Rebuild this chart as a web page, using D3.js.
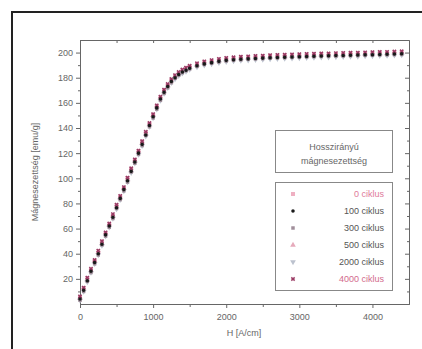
<!DOCTYPE html>
<html>
<head>
<meta charset="utf-8">
<script src="https://cdn.jsdelivr.net/npm/d3@7"></script>
<style>
  body { margin: 0; background: #fff; }
  svg { display: block; font-family: "Liberation Sans", Arial, sans-serif; }
</style>
</head>
<body>
<div id="chart"></div>
<script>
// field steps shared by every series (A/cm)
const fieldH = [0,50,100,150,200,250,300,350,400,450,500,550,600,650,700,750,800,850,900,950,
  1000,1050,1100,1150,1200,1250,1300,1350,1400,1450,1500,1600,1700,1800,1900,2000,2100,2200,2300,2400,
  2500,2600,2700,2800,2900,3000,3100,3200,3300,3400,3500,3600,3700,3800,3900,4000,4100,4200,4300,4400];

// magnetization readings (emu/g)
const cyc0 = [5,12,20,27,34,41,49,56,63,70,78,85,92,100,107,114,121,129,136,143,
  150,157,164,169.5,174,178,181,183.5,185.5,187,188.5,190.5,192,193,194,194.8,195.3,195.7,196,196.3,
  196.6,196.9,197.1,197.3,197.5,197.7,197.9,198.1,198.3,198.4,198.6,198.7,198.9,199,199.2,199.3,199.5,199.6,199.8,200];
const cyc100 = [4,11,18.5,26,33,40,47.5,55,62,69,76.5,84,91,98,105.5,113,120,127,134.5,142,
  149,156,163,168.5,173,177,180,182.5,184.5,186,187.5,189.5,191,192,193,193.8,194.3,194.7,195,195.3,
  195.6,195.9,196.1,196.3,196.5,196.7,196.9,197.1,197.3,197.4,197.6,197.7,197.9,198,198.2,198.3,198.5,198.6,198.8,199];
const cyc300 = [3,10,18,25,32,39,47,54,61,68,76,83,90,97,105,112,119,126,134,141,
  148,155,162,167.5,172,176,179.5,182,184,185.5,187,189,190.5,191.5,192.5,193.3,193.8,194.2,194.6,194.9,
  195.2,195.5,195.7,195.9,196.1,196.3,196.5,196.7,196.9,197,197.2,197.3,197.5,197.6,197.8,197.9,198.1,198.2,198.4,198.5];
const cyc500 = [4.5,12,19,26.5,34,41,48,55.5,63,70,77,84.5,92,99,106,113.5,121,128,135,142.5,
  150,157,163.5,169,173.5,177.5,180.5,183,185,186.5,188,190,191.5,192.5,193.5,194.3,194.8,195.2,195.5,195.8,
  196.1,196.4,196.6,196.8,197,197.2,197.4,197.6,197.8,197.9,198.1,198.2,198.4,198.5,198.7,198.8,199,199.1,199.3,199.4];
const cyc2000 = [3,10,17.5,25,32,39,46.5,54,61,68,75.5,83,90,97,104.5,112,119,126,133.5,141,
  148,155,162,167.5,172,176,179,181.5,183.5,185,186.5,188.5,190,191,192,192.8,193.3,193.7,194,194.3,
  194.6,194.9,195.1,195.3,195.5,195.7,195.9,196.1,196.3,196.4,196.6,196.7,196.9,197,197.2,197.3,197.5,197.6,197.8,198];
const cyc4000 = [6,13,21,28,35,42.5,50,57,64,71.5,79,86,93,100.5,108,115,122,129.5,137,144,
  151,158,165,170.5,175,179,182,184.5,186.5,188,189.5,191.5,193,194,195,195.8,196.3,196.7,197,197.3,
  197.6,197.9,198.1,198.3,198.5,198.7,198.9,199.1,199.3,199.4,199.6,199.7,199.9,200,200.2,200.3,200.5,200.6,200.8,201];

const seriesNames = ['0 ciklus', '100 ciklus', '300 ciklus', '500 ciklus', '2000 ciklus', '4000 ciklus'];
const seriesValues = [cyc0, cyc100, cyc300, cyc500, cyc2000, cyc4000];

const xTicks = [0, 1000, 2000, 3000, 4000];
const xMinor = [500, 1500, 2500, 3500];
const yTicks = [20, 40, 60, 80, 100, 120, 140, 160, 180, 200];
const yMinor = [10, 30, 50, 70, 90, 110, 130, 150, 170, 190];

const styles = [
  { sym: d3.symbolSquare, fill: '#efb0c2', size: 16, rot: 0, text: '#e07a9a' },
  { sym: d3.symbolCircle, fill: '#1a1a1a', size: 10, rot: 0, text: '#555' },
  { sym: d3.symbolSquare, fill: '#a08e9a', size: 12, rot: 0, text: '#555' },
  { sym: d3.symbolTriangle, fill: '#e6aabb', size: 14, rot: 0, text: '#555' },
  { sym: d3.symbolTriangle, fill: '#bcc2ce', size: 14, rot: 180, text: '#555' },
  { sym: d3.symbolCross, fill: '#9a3a64', size: 12, rot: 45, text: '#d26a8c' }
];
const drawOrder = [0, 3, 5, 4, 2, 1];

const W = 422, H = 349;
const svg = d3.select('#chart').append('svg').attr('width', W).attr('height', H);

svg.append('rect').attr('x', 12).attr('y', 12).attr('width', 420).attr('height', 350)
  .attr('fill', '#fff').attr('stroke', '#222').attr('stroke-width', 2);

const x = d3.scaleLinear().domain([0, 4500]).range([80, 409]);
const y = d3.scaleLinear().domain([0, 210]).range([304, 40]);

function styleAxis(g) {
  g.select('.domain').attr('stroke', '#666');
  g.selectAll('.tick line').attr('stroke', '#666');
  g.selectAll('.tick text').attr('fill', '#666').attr('font-size', 9);
}

// bottom axis
svg.append('g').attr('transform', 'translate(0,304)')
  .call(d3.axisBottom(x).tickValues(xTicks).tickFormat(d3.format('d')).tickSize(4).tickSizeOuter(0).tickPadding(6))
  .call(styleAxis);
svg.append('g').attr('transform', 'translate(0,304)')
  .call(d3.axisBottom(x).tickValues(xMinor).tickSize(3).tickFormat('').tickSizeOuter(0))
  .call(styleAxis);
// top axis (inward)
svg.append('g').attr('transform', 'translate(0,40)')
  .call(d3.axisBottom(x).tickValues(xTicks.concat(xMinor)).tickSize(3).tickFormat('').tickSizeOuter(0))
  .call(styleAxis);
// left axis
svg.append('g').attr('transform', 'translate(80,0)')
  .call(d3.axisLeft(y).tickValues(yTicks).tickSize(4).tickSizeOuter(0).tickPadding(3))
  .call(styleAxis);
svg.append('g').attr('transform', 'translate(80,0)')
  .call(d3.axisLeft(y).tickValues(yMinor).tickSize(2).tickFormat('').tickSizeOuter(0))
  .call(styleAxis);
// right axis (inward)
svg.append('g').attr('transform', 'translate(409,0)')
  .call(d3.axisLeft(y).tickValues(yTicks).tickSize(4).tickFormat('').tickSizeOuter(0))
  .call(styleAxis);
svg.append('g').attr('transform', 'translate(409,0)')
  .call(d3.axisLeft(y).tickValues(yMinor).tickSize(2).tickFormat('').tickSizeOuter(0))
  .call(styleAxis);

// axis titles
svg.append('text').attr('x', 244).attr('y', 336).attr('text-anchor', 'middle')
  .attr('font-size', 9).attr('fill', '#666').text('H [A/cm]');
svg.append('text').attr('transform', 'translate(38,172) rotate(-90)').attr('text-anchor', 'middle')
  .attr('font-size', 9).attr('fill', '#666').text('Mágnesezettség [emu/g]');

// markers
const plot = svg.append('g');
drawOrder.forEach(i => {
  const st = styles[i];
  const sym = d3.symbol().type(st.sym).size(st.size);
  plot.append('g')
    .selectAll('path')
    .data(seriesValues[i].map((m, k) => [fieldH[k], m]))
    .join('path')
    .attr('d', sym)
    .attr('fill', st.fill)
    .attr('transform', d => `translate(${x(d[0])},${y(d[1])}) rotate(${st.rot})`);
});

// legend
const lg = svg.append('g');
lg.append('rect').attr('x', 275.5).attr('y', 130.5).attr('width', 117).attr('height', 42)
  .attr('fill', '#fff').attr('stroke', '#888');
lg.append('text').attr('x', 334).attr('y', 150).attr('text-anchor', 'middle')
  .attr('font-size', 9).attr('fill', '#666').text('Hosszirányú');
lg.append('text').attr('x', 334).attr('y', 164).attr('text-anchor', 'middle')
  .attr('font-size', 9).attr('fill', '#666').text('mágnesezettség');
lg.append('rect').attr('x', 275.5).attr('y', 182.5).attr('width', 117).attr('height', 108)
  .attr('fill', '#fff').attr('stroke', '#888');

seriesNames.forEach((name, i) => {
  const st = styles[i];
  const yy = 194 + i * 17;
  lg.append('path')
    .attr('d', d3.symbol().type(st.sym).size(st.size)())
    .attr('fill', st.fill)
    .attr('transform', `translate(293,${yy}) rotate(${st.rot})`);
  lg.append('text').attr('x', 384).attr('y', yy + 3).attr('text-anchor', 'end')
    .attr('font-size', 9).attr('fill', st.text).text(name);
});
</script>
</body>
</html>
